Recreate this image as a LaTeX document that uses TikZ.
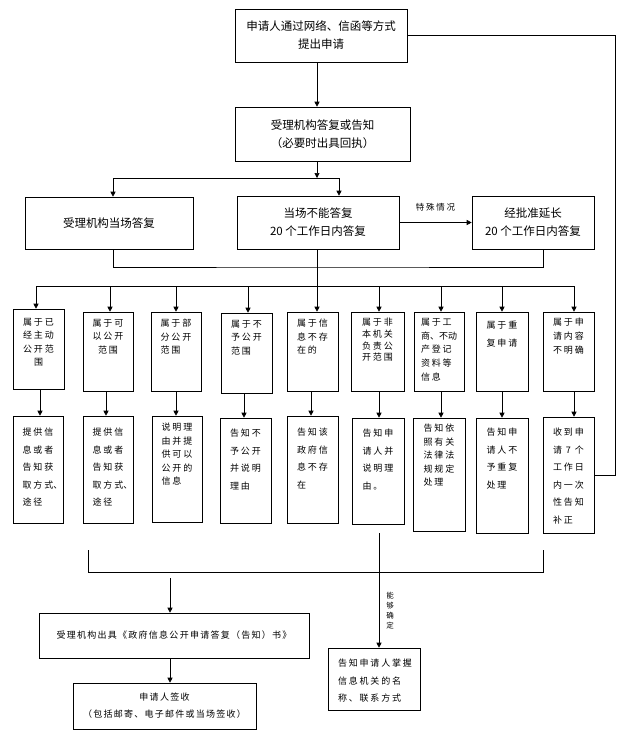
\documentclass[tikz,border=0pt]{standalone}
\usepackage{fontspec}
\newfontfamily\cjk{Noto Sans CJK SC}
\newfontfamily\cjksp[LetterSpace=20]{Noto Sans CJK SC}
\newfontfamily\cjkbt[LetterSpace=14]{Noto Sans CJK SC}
\usetikzlibrary{arrows.meta}
\begin{document}
\begin{tikzpicture}[x=1pt,y=-1pt,
  every path/.style={line width=0.6pt},
  arr/.style={-{Triangle[length=5pt,width=5pt]}},
  box/.style={draw, line width=0.6pt, inner sep=0pt, fill=white},
  bigtext/.style={font=\cjk\fontsize{11.5}{18}\selectfont, align=center},
  rtext/.style={font=\cjksp\fontsize{9}{13.5}\selectfont, align=left, inner sep=0pt, anchor=north},
  stext/.style={font=\cjksp\fontsize{9}{17.5}\selectfont, align=left, inner sep=0pt, anchor=north},
  lab/.style={font=\cjksp\fontsize{8.5}{10}\selectfont, inner sep=0pt}
]
\useasboundingbox[fill=white] (0,0) rectangle (630,742);

% main boxes
\node[box, bigtext, minimum width=172pt, minimum height=53pt] (top) at (321,35.5) {申请人通过网络、信函等方式\\提出申请};
\node[box, bigtext, minimum width=175pt, minimum height=54pt] (acc) at (322.5,134) {受理机构答复或告知\\（必要时出具回执）};
\node[box, bigtext, minimum width=168pt, minimum height=52pt] (onsite) at (109,223) {受理机构当场答复};
\node[box, bigtext, minimum width=162pt, minimum height=53pt] (cannot) at (318,222.5) {当场不能答复\\20 个工作日内答复};
\node[box, bigtext, minimum width=122pt, minimum height=53pt] (extend) at (533,222.5) {经批准延长\\20 个工作日内答复};

% first row of category boxes
\node[box, minimum width=51pt, minimum height=80pt] (r1) at (38.5,349) {};
\node[box, minimum width=50pt, minimum height=79pt] (r2) at (108,351.5) {};
\node[box, minimum width=50pt, minimum height=79pt] (r3) at (176,351.5) {};
\node[box, minimum width=51pt, minimum height=80pt] (r4) at (246.5,353) {};
\node[box, minimum width=51pt, minimum height=79pt] (r5) at (312.5,351.5) {};
\node[box, minimum width=53pt, minimum height=79pt] (r6) at (377.5,351.5) {};
\node[box, minimum width=50pt, minimum height=79pt] (r7) at (439,351.5) {};
\node[box, minimum width=52pt, minimum height=79pt] (r8) at (502,351.5) {};
\node[box, minimum width=51pt, minimum height=79pt] (r9) at (568.5,351.5) {};

\node[rtext, align=center] (r1t) at (38.5,318) {属于已\\经主动\\公开范\\围};
\node[rtext, align=center] (r2t) at (108,319) {属于可\\以公开\\范围};
\node[rtext] (r3t) at (176,319) {属于部\\分公开\\范围};
\node[rtext] (r4t) at (246.5,320) {属于不\\予公开\\范围};
\node[rtext] (r5t) at (312.5,319) {属于信\\息不存\\在的};
\node[rtext, font=\cjksp\fontsize{9}{11.7}\selectfont] (r6t) at (377.5,318) {属于非\\本机关\\负责公\\开范围};
\node[rtext, font=\cjksp\fontsize{9}{13.7}\selectfont] (r7t) at (439,318) {属于工\\{\cjk 商、不动}\\产登记\\资料等\\信息};
\node[rtext, font=\cjksp\fontsize{9}{18}\selectfont] (r8t) at (502,321) {属于重\\复申请};
\node[rtext, font=\cjksp\fontsize{9}{13.7}\selectfont] (r9t) at (568.5,318) {属于申\\请内容\\不明确};

% second row of answer boxes
\node[box, minimum width=50pt, minimum height=107pt] (s1) at (38,469.5) {};
\node[box, minimum width=50pt, minimum height=107pt] (s2) at (108,469.5) {};
\node[box, minimum width=50pt, minimum height=106pt] (s3) at (177,469) {};
\node[box, minimum width=51pt, minimum height=105pt] (s4) at (245.5,470.5) {};
\node[box, minimum width=51pt, minimum height=107pt] (s5) at (312.5,469.5) {};
\node[box, minimum width=52pt, minimum height=106pt] (s6) at (378,471) {};
\node[box, minimum width=52pt, minimum height=113pt] (s7) at (439,474.5) {};
\node[box, minimum width=52pt, minimum height=115pt] (s8) at (502,475.5) {};
\node[box, minimum width=51pt, minimum height=116pt] (s9) at (568.5,475) {};

\node[stext] (s1t) at (38,428) {提供信\\息或者\\告知获\\取方式\rlap{、}\\途径};
\node[stext] (s2t) at (108,428) {提供信\\息或者\\告知获\\取方式\rlap{、}\\途径};
\node[stext, font=\cjksp\fontsize{9}{13.5}\selectfont] (s3t) at (177,423) {说明理\\由并提\\供可以\\公开的\\信息};
\node[stext] (s4t) at (245.5,429) {告知不\\予公开\\并说明\\理由};
\node[stext] (s5t) at (312.5,428) {告知该\\政府信\\息不存\\在};
\node[stext] (s6t) at (378,429) {告知申\\请人并\\说明理\\由。};
\node[stext, font=\cjksp\fontsize{9}{13.5}\selectfont] (s7t) at (439,424) {告知依\\照有关\\法律法\\规规定\\处理};
\node[stext] (s8t) at (502,428) {告知申\\请人不\\予重复\\处理};
\node[stext] (s9t) at (568.5,428) {收到申\\请 7 个\\工作日\\内一次\\性告知\\补正};

% bottom boxes
\node[box, minimum width=270pt, minimum height=45pt, font=\cjkbt\fontsize{9}{12}\selectfont] (out) at (174,635.5) {\raisebox{-2.5pt}{受理机构出具《政府信息公开申请答复（告知）书》}};
\node[box, minimum width=183pt, minimum height=46pt, font=\cjkbt\fontsize{9}{17}\selectfont, align=center] (sign) at (164.5,706) {申请人签收\\（包括邮寄、电子邮件或当场签收）};
\node[box, minimum width=92pt, minimum height=62pt] (know) at (374,679) {};
\node[stext, anchor=center] (knowt) at (375,681) {告知申请人掌握\\信息机关的名\\称、联系方式};

% helper coordinates
\coordinate (cx) at (317,0);
\coordinate (sp) at (317,178);
\coordinate (spL) at (113,178);
\coordinate (spR) at (339,178);
\coordinate (mg) at (317,267);
\coordinate (mx) at (543,0);
\coordinate (ds) at (317,286);
\coordinate (dL) at (36,286);
\coordinate (dR) at (574,286);
\coordinate (a1) at (36,286);
\coordinate (a2) at (110,286);
\coordinate (a3) at (176,286);
\coordinate (a4) at (248,286);
\coordinate (a5) at (317,286);
\coordinate (a6) at (379,286);
\coordinate (a7) at (441,286);
\coordinate (a8) at (502,286);
\coordinate (a9) at (574,286);
\coordinate (b1) at (40,0);
\coordinate (b2) at (106,0);
\coordinate (b3) at (176,0);
\coordinate (b4) at (244,0);
\coordinate (b5) at (311,0);
\coordinate (b6) at (379,0);
\coordinate (b7) at (441,0);
\coordinate (b8) at (502,0);
\coordinate (b9) at (574,0);
\coordinate (cL) at (88,550);
\coordinate (cLb) at (88,572);
\coordinate (cRb) at (543,572);
\coordinate (cR) at (543,550);
\coordinate (oa) at (170,578);
\coordinate (k0) at (379,533);
\coordinate (rx) at (615,0);

% connectors, top part
\draw[arr] (top.south -| cx) -- (acc.north -| cx);
\draw[arr] (acc.south -| cx) -- (sp);
\draw[arr] (sp) -| (onsite.north -| spL);
\draw[arr] (sp) -| (cannot.north -| spR);
\draw[arr] (cannot.east) -- node[lab, midway, yshift=15pt] {特殊情况} (extend.west);
\draw (onsite.south -| spL) |- (mg) -| (extend.south -| mx);
\draw (cannot.south -| cx) -- (ds);
\draw (dL) -- (dR);

% loop back from the last answer box to the first box
\draw (top.east) -| (rx |- s9.east) -- (s9.east);

% distribution arrows
\draw[arr] (a1) -- (r1.north -| a1);
\draw[arr] (a2) -- (r2.north -| a2);
\draw[arr] (a3) -- (r3.north -| a3);
\draw[arr] (a4) -- (r4.north -| a4);
\draw[arr] (a5) -- (r5.north -| a5);
\draw[arr] (a6) -- (r6.north -| a6);
\draw[arr] (a7) -- (r7.north -| a7);
\draw[arr] (a8) -- (r8.north -| a8);
\draw[arr] (a9) -- (r9.north -| a9);

\draw[arr] (r1.south -| b1) -- (s1.north -| b1);
\draw[arr] (r2.south -| b2) -- (s2.north -| b2);
\draw[arr] (r3.south -| b3) -- (s3.north -| b3);
\draw[arr] (r4.south -| b4) -- (s4.north -| b4);
\draw[arr] (r5.south -| b5) -- (s5.north -| b5);
\draw[arr] (r6.south -| b6) -- (s6.north -| b6);
\draw[arr] (r7.south -| b7) -- (s7.north -| b7);
\draw[arr] (r8.south -| b8) -- (s8.north -| b8);
\draw[arr] (r9.south -| b9) -- (s9.north -| b9);

% bottom part
\draw (cL) -- (cLb) -- (cRb) -- (cR);
\draw[arr] (oa) -- (out.north -| oa);
\draw[arr] (out.south -| oa) -- (sign.north -| oa);
\draw[arr] (k0) -- node[pos=0.675, xshift=11pt, font=\cjk\fontsize{7.5}{10}\selectfont, align=center, inner sep=0pt] {能\\够\\确\\定} (know.north -| k0);
\end{tikzpicture}
\end{document}
